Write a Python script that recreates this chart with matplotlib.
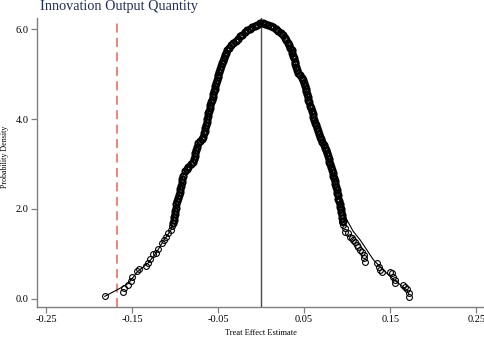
import matplotlib
matplotlib.use("Agg")
import matplotlib.pyplot as plt

# ---- data ----
# open-circle points: (estimate, density)
left_tail_x = [-0.1817, -0.1608, -0.1590, -0.1543, -0.1515, -0.1503, -0.1438, -0.1415, -0.1341,
               -0.1310, -0.1294, -0.1252, -0.1221, -0.1194, -0.1155, -0.1131, -0.1105, -0.1078,
               -0.1047, -0.1031]
left_tail_y = [0.053, 0.143, 0.232, 0.305, 0.394, 0.477, 0.617, 0.655, 0.728,
               0.788, 0.877, 0.989, 1.011, 1.100, 1.247, 1.307, 1.381, 1.457,
               1.530, 1.619]

center_x = [-0.1020, -0.1015, -0.1011, -0.1006, -0.1001, -0.0993, -0.0984, -0.0975, -0.0966,
            -0.0956, -0.0947, -0.0939, -0.0932, -0.0924, -0.0917, -0.0909, -0.0884, -0.0865,
            -0.0845, -0.0816, -0.0787, -0.0780, -0.0774, -0.0767, -0.0754, -0.0742, -0.0729,
            -0.0710, -0.0690, -0.0671, -0.0663, -0.0656, -0.0648, -0.0642, -0.0634, -0.0627,
            -0.0620, -0.0613, -0.0605, -0.0597, -0.0589, -0.0581, -0.0573, -0.0565, -0.0557,
            -0.0548, -0.0540, -0.0532, -0.0523, -0.0515, -0.0506, -0.0496, -0.0487, -0.0476,
            -0.0466, -0.0457, -0.0445, -0.0434, -0.0422, -0.0411, -0.0399, -0.0373, -0.0348,
            -0.0322, -0.0296, -0.0270, -0.0244, -0.0218, -0.0192, -0.0166, -0.0135, -0.0104,
            -0.0074, -0.0043, -0.0012,
            0.0020, 0.0050, 0.0080, 0.0112, 0.0143, 0.0172, 0.0201, 0.0230, 0.0259,
            0.0275, 0.0291, 0.0307, 0.0323, 0.0339, 0.0355, 0.0364, 0.0372, 0.0381,
            0.0389, 0.0398, 0.0406, 0.0415, 0.0434, 0.0453, 0.0473, 0.0492, 0.0500,
            0.0509, 0.0517, 0.0525, 0.0533, 0.0542, 0.0550, 0.0560, 0.0569, 0.0579,
            0.0589, 0.0598, 0.0608, 0.0619, 0.0630, 0.0641, 0.0652, 0.0664, 0.0675,
            0.0686, 0.0699, 0.0712, 0.0725, 0.0738, 0.0751, 0.0764, 0.0774, 0.0783,
            0.0793, 0.0803, 0.0812, 0.0822, 0.0830, 0.0839, 0.0847, 0.0855, 0.0863,
            0.0872, 0.0880, 0.0886, 0.0893, 0.0899, 0.0906, 0.0912, 0.0919, 0.0925,
            0.0932, 0.0938, 0.0944, 0.0951]
center_y = [1.68, 1.75, 1.82, 1.89, 1.96, 2.03, 2.10, 2.17, 2.24,
            2.31, 2.38, 2.45, 2.52, 2.59, 2.66, 2.73, 2.84, 2.89,
            2.94, 2.99, 3.05, 3.11, 3.17, 3.24, 3.31, 3.38, 3.46,
            3.51, 3.56, 3.61, 3.68, 3.74, 3.81, 3.87, 3.94, 4.00,
            4.07, 4.13, 4.19, 4.25, 4.31, 4.37, 4.43, 4.49, 4.55,
            4.62, 4.68, 4.74, 4.81, 4.87, 4.93, 4.99, 5.05, 5.12,
            5.18, 5.24, 5.30, 5.36, 5.42, 5.48, 5.54, 5.59, 5.64,
            5.69, 5.74, 5.79, 5.84, 5.88, 5.93, 5.98, 6.01, 6.04,
            6.07, 6.10, 6.13,
            6.13, 6.12, 6.10, 6.08, 6.06, 6.01, 5.97, 5.92, 5.87,
            5.81, 5.76, 5.70, 5.65, 5.59, 5.54, 5.48, 5.41, 5.35,
            5.28, 5.22, 5.15, 5.09, 5.03, 4.98, 4.92, 4.87, 4.81,
            4.74, 4.68, 4.62, 4.56, 4.49, 4.43, 4.37, 4.30, 4.24,
            4.18, 4.11, 4.05, 3.99, 3.92, 3.86, 3.80, 3.73, 3.67,
            3.61, 3.55, 3.49, 3.42, 3.36, 3.30, 3.24, 3.18, 3.12,
            3.05, 2.99, 2.93, 2.87, 2.81, 2.74, 2.68, 2.61, 2.55,
            2.48, 2.42, 2.36, 2.30, 2.23, 2.17, 2.11, 2.05, 1.99,
            1.93, 1.86, 1.80, 1.74]

right_tail_x = [0.0938, 0.0957, 0.0977, 0.0977, 0.1015, 0.1035, 0.1055, 0.1073, 0.1093,
                0.1113, 0.1131, 0.1151, 0.1171, 0.1190, 0.1198, 0.1209, 0.1345, 0.1364,
                0.1384, 0.1403, 0.1500, 0.1520, 0.1538, 0.1550, 0.1558, 0.1647, 0.1674,
                0.1694, 0.1713, 0.1721]
right_tail_y = [1.715, 1.641, 1.568, 1.492, 1.457, 1.381, 1.345, 1.307, 1.270,
                1.196, 1.158, 1.085, 1.047, 0.973, 0.900, 0.824, 0.788, 0.713,
                0.639, 0.601, 0.601, 0.566, 0.490, 0.416, 0.357, 0.305, 0.267,
                0.209, 0.134, 0.045]

# smooth density line
line_x = [-0.1817, -0.1640, -0.1543, -0.1438, -0.1310, -0.1221, -0.1131, -0.1047, -0.1000,
          -0.0942, -0.0903, -0.0845, -0.0787, -0.0767, -0.0729, -0.0671, -0.0613, -0.0573,
          -0.0515, -0.0457, -0.0399, -0.0322, -0.0166, -0.0012, 0.0143, 0.0259, 0.0355,
          0.0415, 0.0492, 0.0550, 0.0608, 0.0686, 0.0764, 0.0822, 0.0880, 0.0930, 0.0997,
          0.1070, 0.1151, 0.1306, 0.1500, 0.1694, 0.1715]
line_y = [0.053, 0.232, 0.340, 0.600, 0.800, 1.020, 1.300, 1.530, 1.980,
          2.420, 2.790, 2.940, 3.050, 3.240, 3.460, 3.610, 4.130, 4.430,
          4.870, 5.240, 5.540, 5.690, 5.980, 6.130, 6.060, 5.870, 5.540,
          5.090, 4.870, 4.430, 4.050, 3.610, 3.240, 2.870, 2.420, 2.050, 1.753,
          1.500, 1.307, 0.862, 0.490, 0.194, 0.110]

true_effect = -0.168
x_ticks = [-0.25, -0.15, -0.05, 0.05, 0.15, 0.25]
x_tick_labels = ["-0.25", "-0.15", "-0.05", "0.05", "0.15", "0.25"]
y_ticks = [0.0, 2.0, 4.0, 6.0]
y_tick_labels = ["0.0", "2.0", "4.0", "6.0"]
title = "Innovation Output Quantity"
xlabel = "Treat Effect Estimate"
ylabel = "Probability Density"

# ---- plot ----
plt.rcParams['font.family'] = ['Liberation Serif', 'DejaVu Serif']
fig = plt.figure(figsize=(4.84, 3.38), dpi=100)
ax = fig.add_axes([0.0764, 0.0917, 0.9236, 0.855])

ax.axvline(0.0, color="#4a4a4a", lw=1.0, zorder=1)
ax.axvline(true_effect, color="#f07a72", lw=1.3, ls=(0, (5, 3)), zorder=1)

ax.plot(line_x, line_y, color="black", lw=0.8, zorder=2)
mk = dict(ls="none", marker="o", ms=4.2, mfc="none", mec="black", mew=0.8, zorder=3)
ax.plot(left_tail_x, left_tail_y, **mk)
ax.plot(right_tail_x, right_tail_y, **mk)
mkc = dict(mk)
mkc.update(ms=4.4, mew=1.5)
ax.plot(center_x, center_y, **mkc)

ax.set_xlim(-0.2605, 0.259)
ax.set_ylim(-0.185, 6.25)
ax.set_xticks(x_ticks)
ax.set_xticklabels(x_tick_labels)
ax.set_yticks(y_ticks)
ax.set_yticklabels(y_tick_labels)

for s in ["top", "right"]:
    ax.spines[s].set_visible(False)
for s in ["left", "bottom"]:
    ax.spines[s].set_color("#7f7f7f")
    ax.spines[s].set_linewidth(1.0)
ax.tick_params(axis="both", direction="out", length=4, width=0.9, color="#7f7f7f",
               labelsize=7.5, labelcolor="black", pad=2)

ax.set_xlabel(xlabel, fontsize=6, labelpad=3)
ax.set_ylabel(ylabel, fontsize=5.8, labelpad=4)
ax.yaxis.set_label_coords(-0.062, 0.52)
fig.text(0.083, 1.0, title, ha="left", va="top", fontsize=10.3, color="#1f2f5f")

fig.savefig("out.png", dpi=100)
